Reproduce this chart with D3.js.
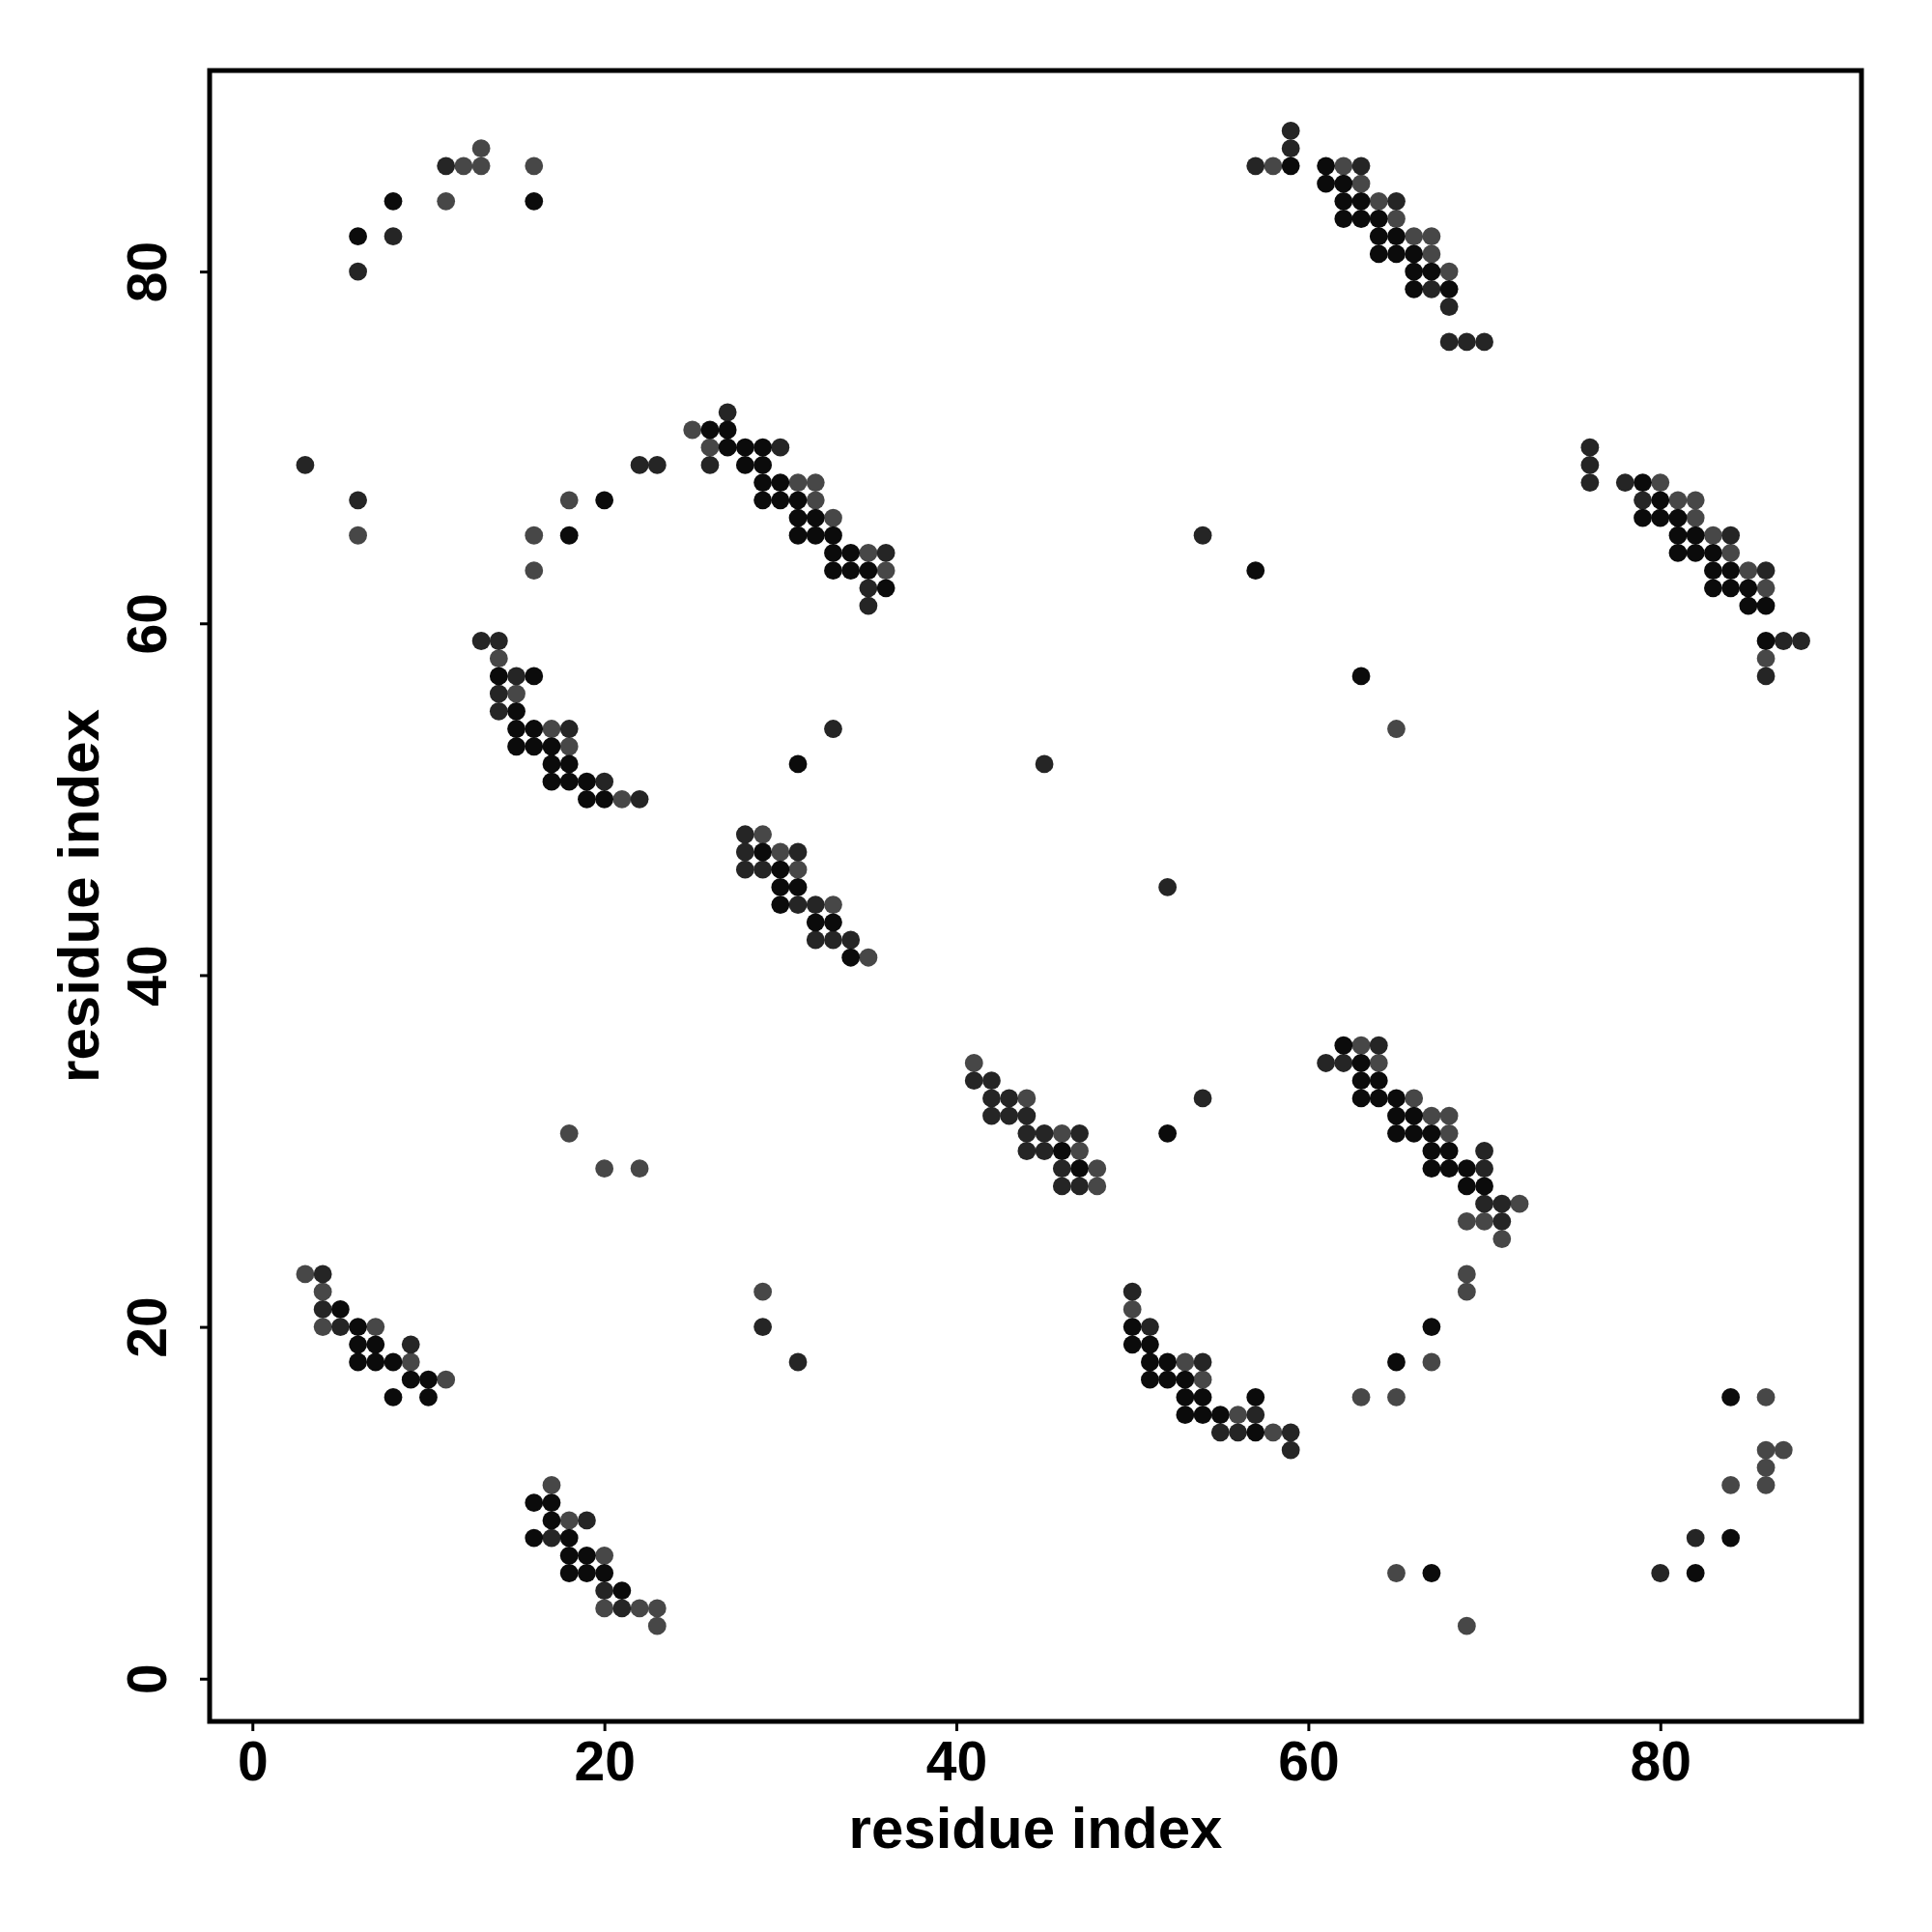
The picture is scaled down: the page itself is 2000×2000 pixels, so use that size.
<!DOCTYPE html>
<html>
<head>
<meta charset="utf-8">
<script src="https://cdn.jsdelivr.net/npm/d3@7"></script>
<style>
  html, body { margin: 0; padding: 0; background: #fff; }
  svg { display: block; }
</style>
</head>
<body>
<script>
// ---- Data: contact pairs [i, j] grouped by contact strength ----
const contactsStrong = [
  [6,82],[8,84],[16,84],[18,65],[20,67],
  [26,71],[27,71],[27,70],[28,70],[29,70],[28,69],[29,69],[29,68],[30,68],[29,67],[30,67],[31,67],
  [31,66],[32,66],[31,65],[32,65],[33,65],[33,64],[34,64],[33,63],[34,63],[35,63],[36,62],
  [14,57],[16,57],[15,55],[15,54],[16,54],[15,53],[16,53],[17,53],[17,52],[18,52],[17,51],[18,51],[19,51],[19,50],[20,50],
  [59,86],[61,86],[61,85],[62,85],[62,84],[63,84],[62,83],[63,83],[64,83],[64,82],[65,82],[64,81],[65,81],[66,81],
  [66,80],[67,80],[66,79],[68,79],
  [79,68],[80,67],[79,66],[80,66],[81,66],[81,65],[82,65],[81,64],[82,64],[83,64],[83,63],[84,63],[83,62],[84,62],
  [85,62],[85,61],[86,61],[86,59],
  [29,47],[30,46],[30,45],[31,45],[30,44],[32,43],[33,43],[34,41],
  [46,30],[47,29],
  [62,36],[63,35],[63,34],[64,34],[63,33],[64,33],[65,33],[65,32],[66,32],[65,31],[66,31],[67,31],[67,30],[68,30],
  [67,29],[68,29],[69,29],[69,28],[70,28],
  [5,21],[6,20],[6,19],[7,19],[6,18],[7,18],[8,18],[9,17],[10,17],[8,16],[10,16],
  [50,20],[50,19],[51,19],[51,18],[52,18],[51,17],[52,17],[53,17],[53,16],[54,16],[57,16],[53,15],[54,15],[55,15],[57,14],
  [16,10],[17,10],[17,9],[16,8],[18,8],[18,7],[19,7],[18,6],[19,6],[20,6],[21,5],
  [57,63],[63,57],[31,52],[52,31],[67,20],[65,18],[67,6],[82,6],[84,8],[84,16]
];
const contactsMedium = [
  [3,69],[6,80],[8,82],[11,86],[6,67],[22,69],[23,69],
  [27,72],[30,70],[26,69],[36,64],[35,62],[35,61],
  [13,59],[14,59],[15,57],[14,56],[14,55],[18,54],[20,51],[22,50],
  [59,88],[59,87],[57,86],[63,86],[65,84],[67,79],[68,78],[68,76],[69,76],[70,76],
  [76,70],[76,69],[76,68],[78,68],[79,67],[84,65],[86,63],[87,59],[88,59],[86,57],
  [28,48],[28,47],[31,47],[28,46],[29,46],[31,44],[32,44],[32,42],[33,42],[34,42],
  [41,34],[42,34],[42,33],[43,33],[42,32],[43,32],[44,32],[44,31],[45,31],[47,31],[44,30],[45,30],[46,29],[46,28],[47,28],
  [64,36],[61,35],[62,35],[70,30],[70,29],[70,27],[71,27],[71,26],
  [4,23],[4,21],[5,20],[9,19],
  [50,22],[51,20],[54,18],[57,15],[55,14],[56,14],[59,14],[59,13],
  [19,9],[17,8],[20,5],[21,4],
  [54,65],[45,52],[33,54],[52,45],[54,33],[29,20],[31,18],[80,6],[82,8]
];
const contactsWeak = [
  [11,84],[12,86],[13,86],[13,87],[16,86],[6,65],[16,65],[16,63],[18,67],
  [25,71],[26,70],[31,68],[32,68],[32,67],[33,66],[35,64],[36,63],
  [14,58],[15,56],[17,54],[18,53],[21,50],
  [58,86],[62,86],[63,85],[64,84],[65,83],[66,82],[67,82],[67,81],[68,80],
  [80,68],[81,67],[82,67],[82,66],[83,65],[84,64],[85,63],[86,62],[86,58],
  [29,48],[30,47],[31,46],[33,44],[35,41],
  [41,35],[44,33],[46,31],[47,30],[48,29],[48,28],
  [63,36],[64,35],[66,33],[67,32],[68,32],[68,31],[72,27],[69,26],[70,26],[71,25],
  [3,23],[4,22],[4,20],[7,20],[9,18],[11,17],
  [50,21],[53,18],[54,17],[56,15],[58,14],
  [17,11],[18,9],[20,7],[20,4],[22,4],[23,4],[23,3],
  [65,54],[18,31],[20,29],[22,29],[29,22],[69,23],[69,22],[67,18],[63,16],[65,16],[65,6],[69,3],
  [84,11],[86,16],[86,13],[87,13],[86,12],[86,11]
];
const xTicks = [0, 20, 40, 60, 80];
const yTicks = [0, 20, 40, 60, 80];
const xLabel = "residue index";
const yLabel = "residue index";

// ---- Layout ----
const W = 2000, H = 2000;
const plotL = 217, plotR = 1927, plotT = 73, plotB = 1782;
const FONT = "'Liberation Sans', Arial, Helvetica, sans-serif";

const svg = d3.select("body").append("svg")
  .attr("width", W).attr("height", H)
  .style("background", "#fff");

const x = d3.scaleLinear().domain([-2.43, 91.43]).range([plotL, plotR]);
const y = d3.scaleLinear().domain([-2.43, 91.43]).range([plotB, plotT]);

// points
const layers = [
  { data: contactsWeak, color: "#474747" },
  { data: contactsMedium, color: "#252525" },
  { data: contactsStrong, color: "#0b0b0b" }
];
layers.forEach(l => {
  svg.append("g").selectAll("circle").data(l.data).join("circle")
    .attr("cx", d => x(d[0]))
    .attr("cy", d => y(d[1]))
    .attr("r", 9.4)
    .attr("fill", l.color);
});

// box
svg.append("rect")
  .attr("x", plotL).attr("y", plotT)
  .attr("width", plotR - plotL).attr("height", plotB - plotT)
  .attr("fill", "none").attr("stroke", "#000").attr("stroke-width", 5);

// x axis
const gx = svg.append("g").attr("transform", `translate(0,${plotB})`)
  .call(d3.axisBottom(x).tickValues(xTicks).tickSize(10).tickSizeOuter(0).tickPadding(11).tickFormat(d3.format("d")));
gx.select(".domain").remove();
gx.selectAll(".tick line").attr("stroke-width", 3);
gx.selectAll("text").attr("font-family", FONT).attr("font-weight", "bold")
  .attr("font-size", 57).attr("fill", "#000");

// y axis
const gy = svg.append("g").attr("transform", `translate(${plotL},0)`)
  .call(d3.axisLeft(y).tickValues(yTicks).tickSize(10).tickSizeOuter(0).tickFormat(d3.format("d")));
gy.select(".domain").remove();
gy.selectAll(".tick line").attr("stroke-width", 3);
gy.selectAll("text")
  .attr("x", 0).attr("dy", null).attr("y", 0)
  .attr("text-anchor", "middle")
  .attr("transform", "translate(-45,0) rotate(-90)")
  .attr("font-family", FONT).attr("font-weight", "bold")
  .attr("font-size", 57).attr("fill", "#000");

// titles
svg.append("text")
  .attr("x", (plotL + plotR) / 2).attr("y", 1913)
  .attr("text-anchor", "middle")
  .attr("font-family", FONT).attr("font-weight", "bold").attr("font-size", 60)
  .text(xLabel);
svg.append("text")
  .attr("transform", `translate(102,${(plotT + plotB) / 2}) rotate(-90)`)
  .attr("text-anchor", "middle")
  .attr("font-family", FONT).attr("font-weight", "bold").attr("font-size", 60)
  .text(yLabel);
</script>
</body>
</html>
